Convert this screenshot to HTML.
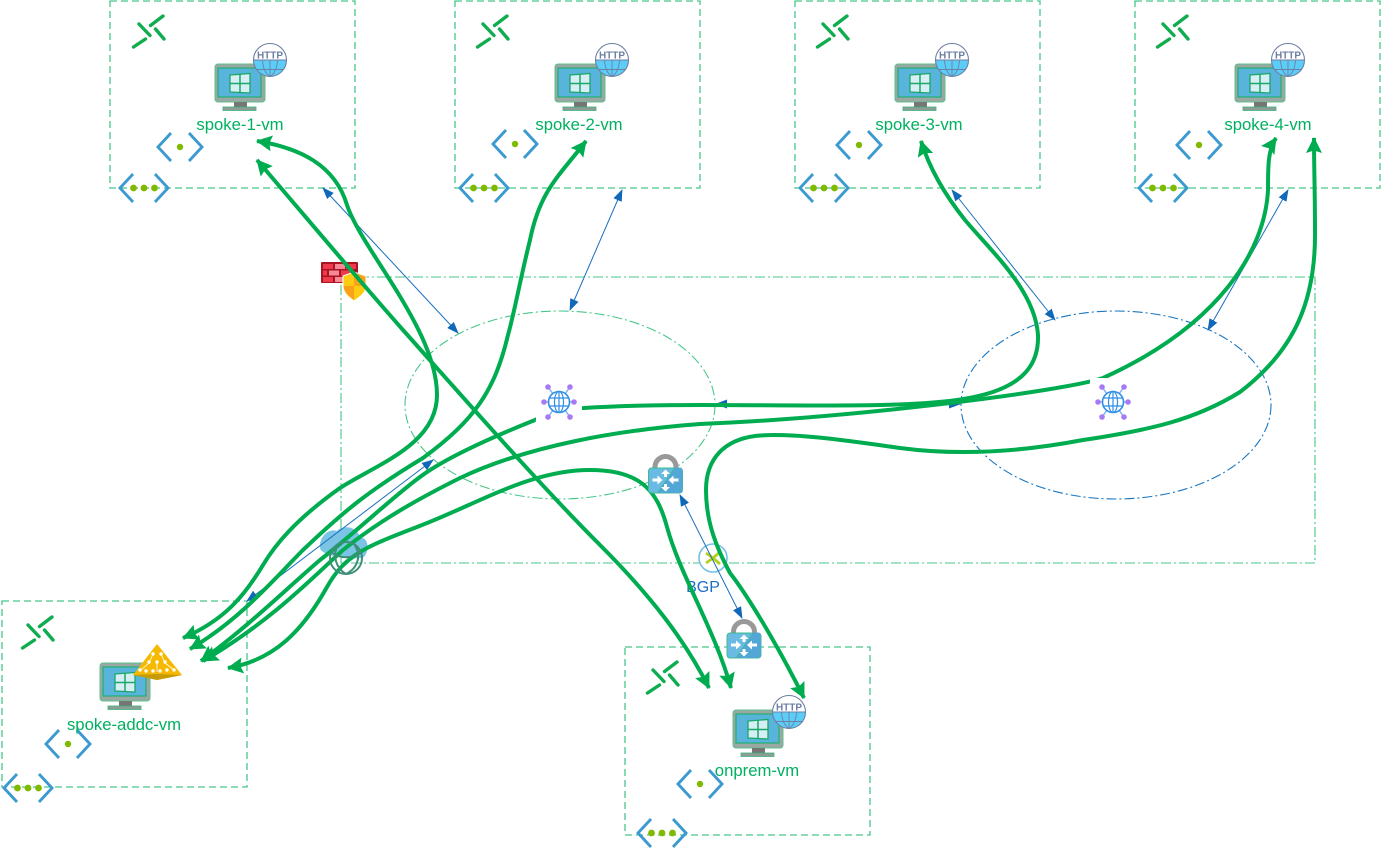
<!DOCTYPE html>
<html><head><meta charset="utf-8"><style>
html,body{margin:0;padding:0;background:#fff;width:1381px;height:849px;overflow:hidden}
svg{display:block}
text{font-family:"Liberation Sans",sans-serif}
.lbl{font-size:16.700px;fill:#00b060;text-anchor:middle}
.g{fill:none;stroke:#00ac50;stroke-width:4;stroke-linecap:butt}
.b{stroke:#1a6fc0;stroke-width:1;fill:none}
.box{fill:none;stroke:#48c78a;stroke-width:1.300;stroke-dasharray:7 4}
.dd{fill:none;stroke:#48c78a;stroke-width:1.100;stroke-dasharray:10 3 2 3}
</style></head><body>
<svg width="1381" height="849" viewBox="0 0 1381 849" xmlns="http://www.w3.org/2000/svg">
<defs>
<symbol id="vm" overflow="visible">
<rect x="1" y="0" width="50" height="38" rx="3" fill="#9aa7a3" stroke="#5cc08c" stroke-width="1"/>
<rect x="4" y="4" width="43" height="29" fill="#58b4da" stroke="#0fb060" stroke-width="1"/>
<path d="M16 11l20-1.500v19.500l-20-1z" fill="#d6eef4" stroke="#1aa868" stroke-width="1.300"/>
<path d="M26 10v19M16 19.500h20" stroke="#1aa868" stroke-width="1.500"/>
<rect x="20" y="38" width="13" height="5" fill="#767676"/>
<rect x="9" y="43" width="33" height="3.500" fill="#909c98" stroke="#3db47c" stroke-width=".8"/>
</symbol>
<symbol id="http" overflow="visible">
<circle r="16.500" fill="#fff"/>
<path d="M-16.500 0h33A16.500 16.500 0 0 1-16.500 0z" fill="#5ccdf7"/>
<circle r="16.500" fill="none" stroke="#6d7fa3" stroke-width="1.100"/>
<path d="M-7.500 0C-7 9-4 14 0 16.500 4 14 7 9 7.500 0M0 0v16.500M-16.500 0h33M-13 9.500h26" fill="none" stroke="#6d7fa3" stroke-width=".9"/>
<text x="0" y="-1.500" font-size="10px" font-weight="bold" fill="#6d7fa3" text-anchor="middle">HTTP</text>
</symbol>
<symbol id="peer" overflow="visible">
<g stroke="#10ac50" stroke-width="3.400" stroke-linecap="round" fill="none">
<path d="M0.500-6.500L13-16"/><path d="M-16.500 15L-4.500 7"/>
<path d="M-11-8L0 3.500"/><path d="M5.500-3L14 7"/>
</g></symbol>
<symbol id="sub" overflow="visible">
<g stroke="#3b9ad0" stroke-width="2.900" fill="none"><path d="M-9-14L-22 0-9 14M9-14L22 0 9 14"/></g>
<circle r="3.200" fill="#7fb900"/></symbol>
<symbol id="vnet" overflow="visible">
<g stroke="#3b9ad0" stroke-width="2.900" fill="none"><path d="M-11-14L-24 0-11 14M11-14L24 0 11 14"/></g>
<circle cx="-10.500" r="3.400" fill="#7fb900"/><circle r="3.400" fill="#7fb900"/><circle cx="10.500" r="3.400" fill="#7fb900"/></symbol>
<symbol id="hub" overflow="visible">
<rect x="-23" y="-24" width="46" height="46" fill="#fff"/>
<g stroke="#8bb7ee" stroke-width="1.500"><path d="M-11-15L11 15M11-15L-11 15M-15 0H-10M10 0H15"/></g>
<g fill="#a67af4"><circle cx="-11" cy="-15" r="2.800"/><circle cx="11" cy="-15" r="2.800"/><circle cx="-15" cy="0" r="2.800"/><circle cx="15" cy="0" r="2.800"/><circle cx="-11" cy="15" r="2.800"/><circle cx="11" cy="15" r="2.800"/></g>
<circle r="10.500" fill="#fff" stroke="#2f8fe6" stroke-width="1.600"/>
<ellipse rx="4.500" ry="10.500" fill="none" stroke="#2f8fe6" stroke-width="1.200"/><path d="M-10-4h20M-10 4h20M0-10v20" stroke="#2f8fe6" stroke-width="1.200"/>
</symbol>
<symbol id="lock" overflow="visible">
<path d="M-10.500 1v-2a10.500 10.500 0 0 1 21 0v2" fill="none" stroke="#999" stroke-width="5"/>
<rect x="-17" y="0" width="34" height="25" rx="3" fill="#6abbe4" stroke="#3cbc90" stroke-width="1"/>
<path d="M9-0.500H14a3 3 0 0 1 3 3V22a3 3 0 0 1-3 3H-8z" fill="#52a7d6"/>
<path d="M9 0L-8 25" stroke="#3cbc90" stroke-width=".8"/>
<g fill="#fff">
<path d="M-13 10.500h5v-3l5 4.500-5 4.500v-3h-5z"/>
<path d="M13 10.500h-5v-3l-5 4.500 5 4.500v-3h5z"/>
<path d="M-1.500 9v-3h-3l4.500-4.500 4.500 4.500h-3v3z"/>
<path d="M-1.500 16v3h-3l4.500 4.500 4.500-4.500h-3v-3z"/>
</g>
</symbol>
<marker id="ga" markerWidth="18" markerHeight="18" refX="15" refY="8" orient="auto-start-reverse" markerUnits="userSpaceOnUse"><path d="M0 0L16 8 0 16 2.500 8z" fill="#00ac50"/></marker>
<marker id="ba" markerWidth="12" markerHeight="9" refX="11" refY="4.500" orient="auto-start-reverse" markerUnits="userSpaceOnUse"><path d="M0 0L12 4.500 0 9z" fill="#1268b8"/></marker>
</defs>

<rect x="110" y="1" width="245" height="187" class="box"/>
<rect x="455" y="1" width="245" height="187" class="box"/>
<rect x="795" y="1" width="245" height="187" class="box"/>
<rect x="1135" y="1" width="245" height="187" class="box"/>
<rect x="2" y="601" width="245" height="186" class="box"/>
<rect x="625" y="647" width="245" height="188" class="box"/>
<rect x="341" y="277" width="974" height="286" class="dd"/>
<ellipse cx="560" cy="405" rx="155" ry="94" class="dd"/>
<ellipse cx="1116" cy="405" rx="155" ry="94" fill="none" stroke="#1a78c2" stroke-width="1.100" stroke-dasharray="10 3 2 3"/>

<use href="#peer" x="150" y="32"/><use href="#peer" x="494" y="32"/><use href="#peer" x="834" y="32"/><use href="#peer" x="1174" y="32"/><use href="#peer" x="39" y="633"/><use href="#peer" x="664" y="678"/>
<use href="#sub" x="180" y="147"/><use href="#sub" x="515" y="144"/><use href="#sub" x="859" y="145"/><use href="#sub" x="1199" y="145"/><use href="#sub" x="68" y="744"/><use href="#sub" x="700" y="784"/>
<use href="#vnet" x="144" y="188"/><use href="#vnet" x="484" y="188"/><use href="#vnet" x="824" y="188"/><use href="#vnet" x="1163" y="188"/><use href="#vnet" x="28" y="788"/><use href="#vnet" x="662" y="833"/>

<use href="#vm" x="214" y="64"/><use href="#vm" x="554" y="64"/><use href="#vm" x="894" y="64"/><use href="#vm" x="1234" y="64"/><use href="#vm" x="99" y="663"/><use href="#vm" x="732" y="710"/>
<use href="#http" x="270" y="60"/><use href="#http" x="612" y="60"/><use href="#http" x="952" y="60"/><use href="#http" x="1288" y="60"/><use href="#http" x="789" y="712"/>

<path d="M133 675L157 644 182 675 157 680z" fill="#f7b900"/><path d="M157 674L182 675 157 680 133 675z" fill="#c79a08"/>
<g stroke="#fff" stroke-width=".8" fill="none"><path d="M153 654L149 663 141 670M161 654L165 663 174 670M157 663V672"/></g>
<g fill="#fff"><circle cx="153" cy="654" r="1.700"/><circle cx="161" cy="654" r="1.700"/><circle cx="149" cy="662" r="1.700"/><circle cx="157" cy="662" r="1.700"/><circle cx="165" cy="662" r="1.700"/><circle cx="140" cy="670" r="1.700"/><circle cx="146" cy="671" r="1.700"/><circle cx="153" cy="671" r="1.700"/><circle cx="160" cy="671" r="1.700"/><circle cx="167" cy="670" r="1.700"/><circle cx="174" cy="670" r="1.700"/></g>

<text x="240" y="130" class="lbl">spoke-1-vm</text>
<text x="579" y="130" class="lbl">spoke-2-vm</text>
<text x="919" y="130" class="lbl">spoke-3-vm</text>
<text x="1268" y="130" class="lbl">spoke-4-vm</text>
<text x="124" y="730" class="lbl">spoke-addc-vm</text>
<text x="757" y="776" class="lbl">onprem-vm</text>

<rect x="321" y="262" width="37" height="21" rx="1" fill="#a8141f"/>
<g fill="#ee3a4c"><rect x="323" y="264" width="10" height="5"/><rect x="346" y="264" width="10" height="5"/><rect x="323" y="277" width="10" height="5"/><rect x="323" y="270.500" width="4" height="5"/><rect x="341" y="270.500" width="10" height="5"/></g>
<g fill="#f58a96"><rect x="335" y="264" width="10" height="5"/><rect x="329" y="270.500" width="10" height="5"/><rect x="335" y="277" width="8" height="5"/></g>
<path d="M343 276l11-4 12 4v10c0 7-6 11-12 15-6-4-11-8-11-15z" fill="#ffcb12" stroke="#fff" stroke-width="1"/>
<path d="M354 286h-10.500c1 7 6 10 10.500 14zM354 286h11.500v-9.500l-11.500-4z" fill="#f9a11b"/>

<path d="M320 548c-1-12 9-20 17-17 4-5 18-7 24 7 7-1 9 12 3 19-2 3-42 1-44-9z" fill="#7cc4e6"/>

<circle cx="713" cy="558" r="14" fill="#fff" stroke="#75bfe4" stroke-width="1.600"/>
<path d="M706 553l7 5-7 5M720 552l-7 6 7 6" fill="none" stroke="#b6cf1c" stroke-width="2.800"/>
<text x="703" y="592" font-size="16px" fill="#1a6fc0" text-anchor="middle">BGP</text>

<g>
<path class="b" d="M323 188L458 333" marker-start="url(#ba)" marker-end="url(#ba)"/>
<path class="b" d="M622 190L570 310" marker-start="url(#ba)" marker-end="url(#ba)"/>
<path class="b" d="M952 190L1055 320" marker-start="url(#ba)" marker-end="url(#ba)"/>
<path class="b" d="M1288 190L1208 330" marker-start="url(#ba)" marker-end="url(#ba)"/>
<path class="b" d="M716 404H960" marker-start="url(#ba)" marker-end="url(#ba)"/>
<path class="b" d="M433 460L247 601" marker-start="url(#ba)" marker-end="url(#ba)"/>
<path class="b" d="M680 495L742 618" marker-start="url(#ba)" marker-end="url(#ba)"/>
</g>

<path class="g" marker-start="url(#ga)" marker-end="url(#ga)" d="M257 141C300 148 335 165 347 205C362 250 437 330 437 395C437 445 375 465 340 488C295 520 275 545 263 565C245 595 225 620 183 638"/>
<path class="g" marker-start="url(#ga)" marker-end="url(#ga)" d="M257 160C300 210 350 270 403 330C470 405 540 485 600 545C650 595 685 640 709 688"/>
<path class="g" marker-start="url(#ga)" marker-end="url(#ga)" d="M586 141C560 175 540 190 530 240C520 280 515 310 508 335C495 390 475 420 423 458C370 490 345 510 303 550C275 578 240 620 190 649"/>
<path class="g" marker-end="url(#ga)" d="M535 420C550 412 565 408 584 408C680 402 780 407 880 405C970 403 1040 395 1038 335C1035 290 990 250 965 220C945 195 930 170 921 141"/>
<path class="g" marker-end="url(#ga)" d="M535 420C480 442 440 462 420 477C395 495 355 533 320 560C285 590 250 625 201 661"/>
<path class="g" marker-start="url(#ga)" marker-end="url(#ga)" d="M1276 138C1268 150 1268 165 1268 190C1265 250 1220 325 1103 378C1060 392 850 418 700 424C620 430 530 445 460 478C420 498 380 520 343 550C310 580 270 622 203 661"/>
<path class="g" marker-start="url(#ga)" marker-end="url(#ga)" d="M1314 138C1314 170 1315 190 1315 230C1316 300 1295 350 1240 392C1195 420 1150 430 1083 440C1020 452 960 456 900 448C850 441 790 432 755 436C725 440 706 458 706 490C706 520 715 545 730 573C745 592 775 640 804 698"/>
<path class="g" marker-start="url(#ga)" marker-end="url(#ga)" d="M228 668C275 660 303 630 327 587C345 555 365 547 417 527C480 503 530 470 590 470C640 470 657 490 667 527C680 575 715 630 731 688"/>

<use href="#hub" x="1113" y="402"/>
<use href="#hub" x="559" y="402"/>
<g fill="none" stroke="#3d8f78" stroke-width="2"><circle cx="346" cy="558" r="16"/><path d="M338 544C332 556 336 568 346 574M354 544C362 555 358 568 346 574M331 552C340 559 352 559 361 552"/></g>
<use href="#lock" x="665.500" y="468"/><use href="#lock" x="744" y="633"/>
</svg>
</body></html>
